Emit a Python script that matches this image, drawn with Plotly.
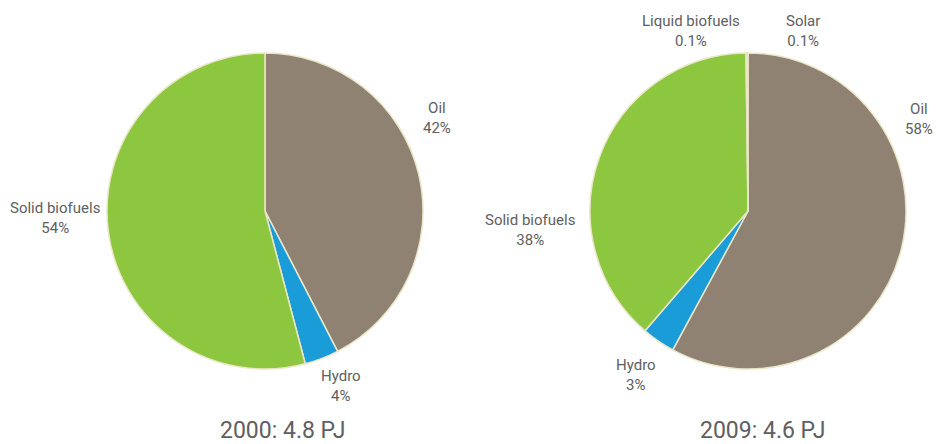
import plotly.graph_objects as go

labels_2000 = ["Oil", "Hydro", "Solid biofuels"]
values_2000 = [42.4, 3.5, 54.1]
pct_2000 = ["42%", "4%", "54%"]

labels_2009 = ["Oil", "Hydro", "Solid biofuels", "Liquid biofuels", "Solar"]
values_2009 = [57.9, 3.4, 38.5, 0.1, 0.1]
pct_2009 = ["58%", "3%", "38%", "0.1%", "0.1%"]

titles = ["2000: 4.8 PJ", "2009: 4.6 PJ"]

colors = {
    "Oil": "#8f8273",
    "Hydro": "#1a9cd8",
    "Solid biofuels": "#8dc63f",
    "Liquid biofuels": "#e8c84a",
    "Solar": "#e4dcb8",
}

W, H = 936, 444
FONT = "Roboto"
TXT = "#606060"

fig = go.Figure()
fig.add_trace(go.Pie(
    labels=labels_2000, values=values_2000, sort=False, direction="clockwise",
    rotation=0, textinfo="none", hoverinfo="label+percent",
    marker=dict(colors=[colors[l] for l in labels_2000], line=dict(color="#ebe6c8", width=1.5)),
    domain=dict(x=[107 / W, 423 / W], y=[(H - 369) / H, (H - 53) / H]),
    showlegend=False,
))
fig.add_trace(go.Pie(
    labels=labels_2009, values=values_2009, sort=False, direction="clockwise",
    rotation=0, textinfo="none", hoverinfo="label+percent",
    marker=dict(colors=[colors[l] for l in labels_2009], line=dict(color="#ebe6c8", width=1.5)),
    domain=dict(x=[590 / W, 906 / W], y=[(H - 369) / H, (H - 53) / H]),
    showlegend=False,
))

# label positions (pixel centers)
pos_2000 = {"Oil": (437, 118), "Hydro": (341, 386), "Solid biofuels": (55, 218)}
pos_2009 = {"Oil": (919, 119), "Hydro": (636, 375), "Solid biofuels": (530, 230),
            "Liquid biofuels": (691, 31), "Solar": (803, 31)}

anns = []
for labs, pcts, pos in [(labels_2000, pct_2000, pos_2000), (labels_2009, pct_2009, pos_2009)]:
    for l, p in zip(labs, pcts):
        x, y = pos[l]
        anns.append(dict(x=x / W, y=1 - y / H, xref="paper", yref="paper",
                         text=f"{l}<br>{p}", showarrow=False, align="center",
                         xanchor="center", yanchor="middle",
                         font=dict(family=FONT, size=15, color=TXT)))
for t, x in zip(titles, [283, 763]):
    anns.append(dict(x=x / W, y=1 - 430 / H, xref="paper", yref="paper", text=t,
                     showarrow=False, xanchor="center", yanchor="middle",
                     font=dict(family=FONT, size=23, color=TXT)))

fig.update_layout(
    width=W, height=H, margin=dict(l=0, r=0, t=0, b=0),
    paper_bgcolor="white", plot_bgcolor="white",
    annotations=anns, font=dict(family=FONT),
)
fig.write_html("out.html", config={"displayModeBar": False},
               post_script="document.body.style.margin='0';")
